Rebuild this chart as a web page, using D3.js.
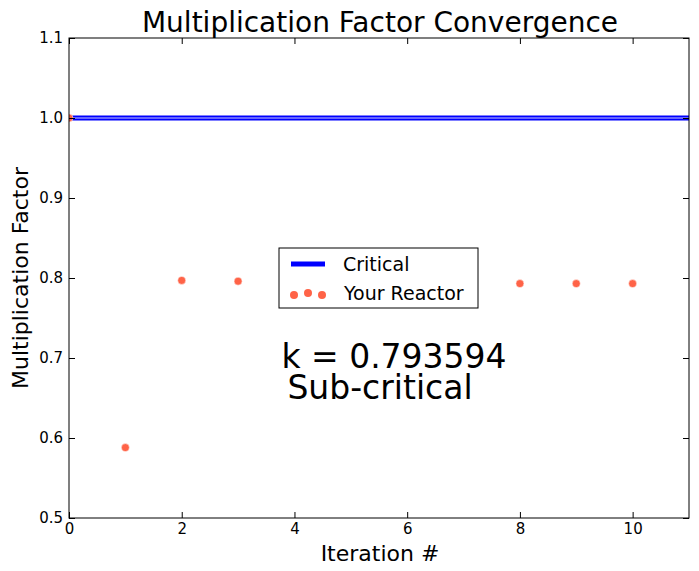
<!DOCTYPE html>
<html><head><meta charset="utf-8">
<script src="https://cdn.jsdelivr.net/npm/d3@7"></script>
<style>body{margin:0;background:#fff;font-family:"DejaVu Sans",sans-serif}</style>
</head><body><div id="chart"></div>
<script>
var iterations = [0, 1, 2, 3, 4, 5, 6, 7, 8, 9, 10];
var kValues = [1.0, 0.588, 0.797, 0.796, 0.795, 0.794, 0.794, 0.794, 0.793, 0.793, 0.793];
var xTicks = [0, 2, 4, 6, 8, 10];
var yTicks = [0.5, 0.6, 0.7, 0.8, 0.9, 1.0, 1.1];
var critical = 1.0;

var margin = {top: 38, right: 10, bottom: 53, left: 69},
  width = 699 - margin.left - margin.right,
  height = 571 - margin.top - margin.bottom;

var svg = d3.select('#chart').append('svg')
  .attr('width', 699).attr('height', 571);
var chart = svg.append('g')
  .attr('transform', 'translate(' + margin.left + ',' + margin.top + ')');

var xScale = d3.scaleLinear().domain([0, 11]).range([0, width]);
var yScale = d3.scaleLinear().domain([0.5, 1.1]).range([height, 0]);

chart.append('defs').append('clipPath').attr('id', 'clip')
  .append('rect').attr('width', width).attr('height', height);

var plot = chart.append('g').attr('clip-path', 'url(#clip)');

// critical line
plot.append('line')
  .attr('x1', 0).attr('x2', width)
  .attr('y1', yScale(critical)).attr('y2', yScale(critical))
  .style('stroke', '#0000ff').style('stroke-width', 5);
plot.append('line')
  .attr('x1', 0).attr('x2', width)
  .attr('y1', yScale(critical)).attr('y2', yScale(critical))
  .style('stroke', '#fff').style('stroke-width', 0.8);

plot.selectAll('circle')
  .data(iterations)
  .enter().append('circle')
  .attr('cx', function(d) { return xScale(d); })
  .attr('cy', function(d, i) { return yScale(kValues[i]); })
  .attr('r', 4)
  .style('fill', '#ff6347')
  .style('stroke', '#fff').style('stroke-width', 0.5);

// axes with inward ticks on all sides
function styleAxis(g) {
  g.select('.domain').remove();
  g.attr('font-size', null).attr('font-family', null);
  g.selectAll('text').style('font-family', '"DejaVu Sans",sans-serif').style('font-size', '15px').style('fill', '#000');
}
chart.append('g').attr('transform', 'translate(0,' + height + ')')
  .call(d3.axisBottom(xScale).tickValues(xTicks).tickSize(-6).tickPadding(5))
  .call(styleAxis);
chart.append('g')
  .call(d3.axisTop(xScale).tickValues(xTicks).tickSize(-6).tickFormat(''))
  .call(styleAxis);
chart.append('g')
  .call(d3.axisLeft(yScale).tickValues(yTicks).tickSize(-6).tickPadding(6).tickFormat(d3.format('.1f')))
  .call(styleAxis);
chart.append('g').attr('transform', 'translate(' + width + ',0)')
  .call(d3.axisRight(yScale).tickValues(yTicks).tickSize(-6).tickFormat(''))
  .call(styleAxis);

chart.append('rect').attr('width', width).attr('height', height)
  .style('fill', 'none').style('stroke', '#000').style('stroke-width', 1);

// labels
svg.append('text').attr('x', 380).attr('y', 32).attr('text-anchor', 'middle')
  .style('font-size', '28px').text('Multiplication Factor Convergence');
svg.append('text').attr('x', 380).attr('y', 561).attr('text-anchor', 'middle')
  .style('font-size', '22px').text('Iteration #');
svg.append('text').attr('text-anchor', 'middle')
  .attr('transform', 'translate(28,' + (margin.top + height / 2) + ')rotate(-90)')
  .style('font-size', '22px').text('Multiplication Factor');

// legend
var lg = svg.append('g').attr('transform', 'translate(279,248)');
lg.append('rect').attr('width', 199).attr('height', 60)
  .style('fill', '#fff').style('stroke', '#000').style('stroke-width', 1);
lg.append('line').attr('x1', 12).attr('x2', 46).attr('y1', 16).attr('y2', 16)
  .style('stroke', '#0000ff').style('stroke-width', 5);
lg.append('text').attr('x', 64).attr('y', 23).style('font-size', '19px').text('Critical');
[15, 29, 43].forEach(function(cx, i) {
  lg.append('circle').attr('cx', cx).attr('cy', i === 1 ? 45 : 47).attr('r', 4).style('fill', '#ff6347');
});
lg.append('text').attr('x', 65).attr('y', 52).style('font-size', '19px').text('Your Reactor');

svg.append('text').attr('x', 394).attr('y', 368).attr('text-anchor', 'middle')
  .style('font-size', '33px').text('k = ' + kValues[kValues.length - 1].toFixed(3) + '594');
svg.append('text').attr('x', 380).attr('y', 399).attr('text-anchor', 'middle')
  .style('font-size', '33px').text('Sub-critical');
</script></body></html>
